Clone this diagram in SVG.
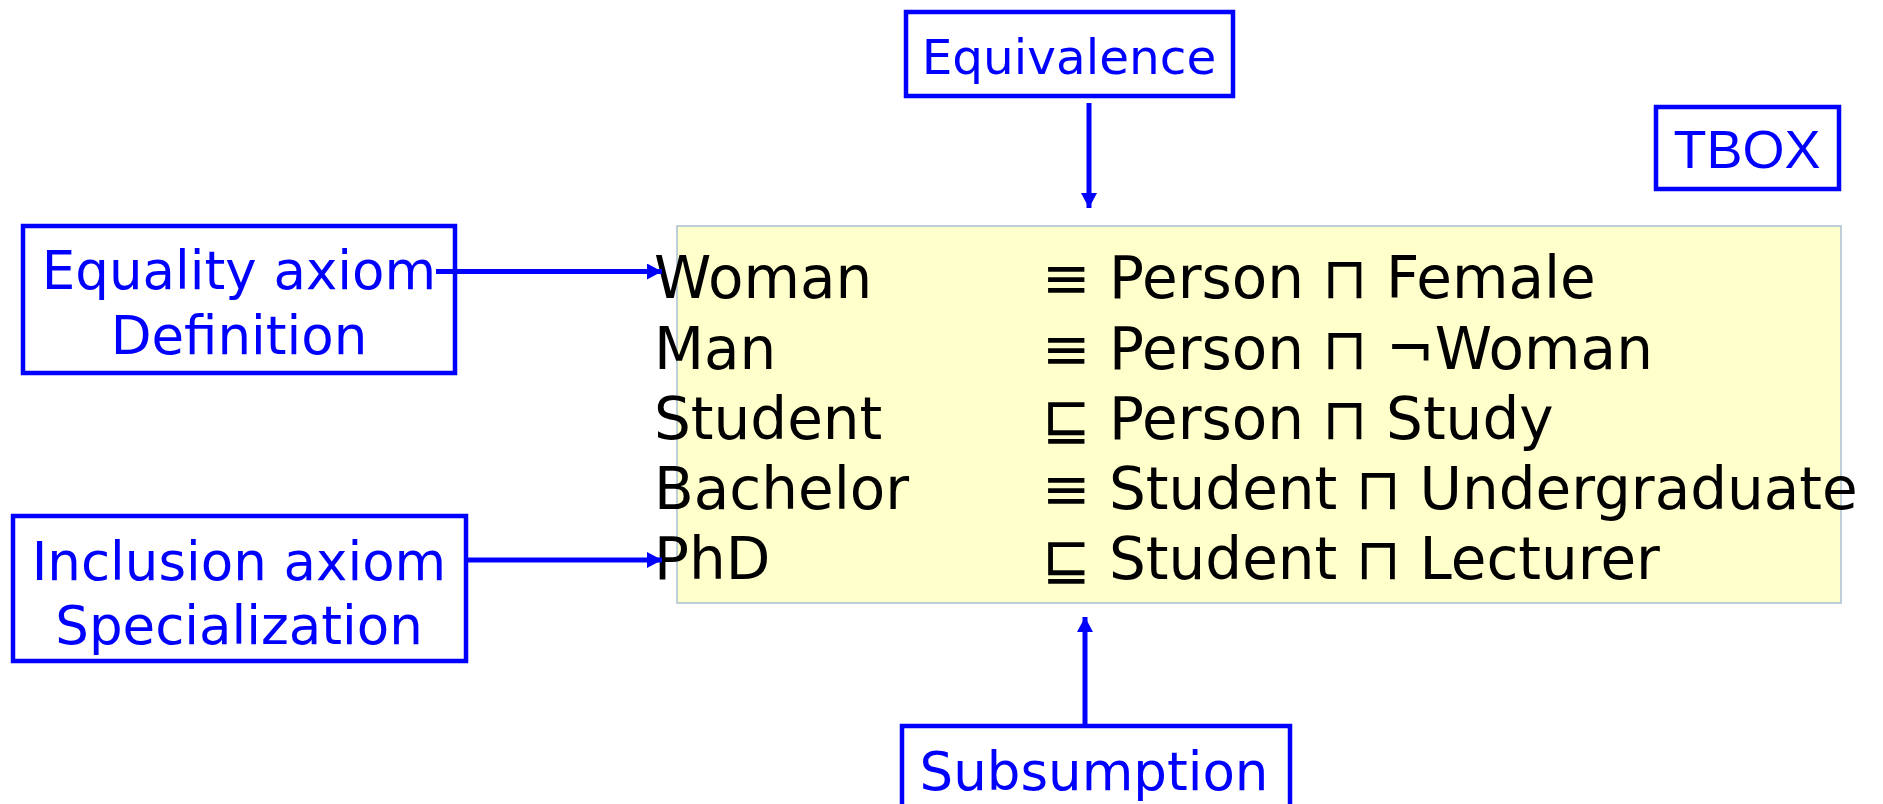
<svg xmlns="http://www.w3.org/2000/svg" width="1883" height="804" viewBox="0 0 1883 804">
<defs>
<style>
.box{fill:#ffffff;stroke:#0000ff;stroke-width:4.5}
.lbl{font-family:"DejaVu Sans",sans-serif;font-size:53px;fill:#0000ff;text-anchor:middle}
.ax{font-family:"DejaVu Sans",sans-serif;font-size:58px;fill:#000000}
.con{stroke:#0000ff;stroke-width:5;fill:none}
</style>
<marker id="ah" viewBox="0 0 15 16" refX="15" refY="8" markerWidth="15" markerHeight="16" orient="auto" markerUnits="userSpaceOnUse">
<path d="M0,0 L15,8 L0,16 z" fill="#0000ff"/>
</marker>
</defs>
<rect width="1883" height="804" fill="#ffffff"/>
<g id="tbox-area">
<rect x="677" y="226" width="1164" height="377" fill="#ffffcc" stroke="#a9bed3" stroke-width="1.5"/>
<text class="ax" x="654" y="298">Woman</text>
<text class="ax" x="654" y="369">Man</text>
<text class="ax" x="654" y="439">Student</text>
<text class="ax" x="654" y="509">Bachelor</text>
<text class="ax" x="654" y="579">PhD</text>
<text class="ax" x="1042" y="298">≡ Person ⊓ Female</text>
<text class="ax" x="1042" y="369">≡ Person ⊓ ¬Woman</text>
<text class="ax" x="1042" y="439">⊑ Person ⊓ Study</text>
<text class="ax" x="1042" y="509">≡ Student ⊓ Undergraduate</text>
<text class="ax" x="1042" y="579">⊑ Student ⊓ Lecturer</text>
</g>
<g id="equivalence">
<rect class="box" x="906" y="12" width="327" height="84"/>
<text class="lbl" x="1069" y="74" style="font-size:48.5px">Equivalence</text>
</g>
<g id="tbox">
<rect class="box" x="1656" y="107" width="183" height="82"/>
<text x="1747" y="168" font-family="'Liberation Sans',Arial,sans-serif" font-size="54" fill="#0000ff" text-anchor="middle">TBOX</text>
</g>
<g id="equality">
<rect class="box" x="23" y="226" width="432" height="147"/>
<text class="lbl" x="239" y="289">Equality axiom</text>
<text class="lbl" x="239" y="354">Definition</text>
</g>
<g id="inclusion">
<rect class="box" x="13" y="516" width="453" height="145"/>
<text class="lbl" x="239" y="580">Inclusion axiom</text>
<text class="lbl" x="239" y="644">Specialization</text>
</g>
<g id="subsumption">
<rect class="box" x="902" y="726" width="388" height="100"/>
<text class="lbl" x="1094" y="790">Subsumption</text>
</g>
<g id="connectors">
<line class="con" x1="1089" y1="103" x2="1089" y2="208" marker-end="url(#ah)"/>
<line class="con" x1="436" y1="271.5" x2="662" y2="271.5" marker-end="url(#ah)"/>
<line class="con" x1="467" y1="560" x2="662" y2="560" marker-end="url(#ah)"/>
<line class="con" x1="1085" y1="724" x2="1085" y2="617" marker-end="url(#ah)"/>
</g>
</svg>
